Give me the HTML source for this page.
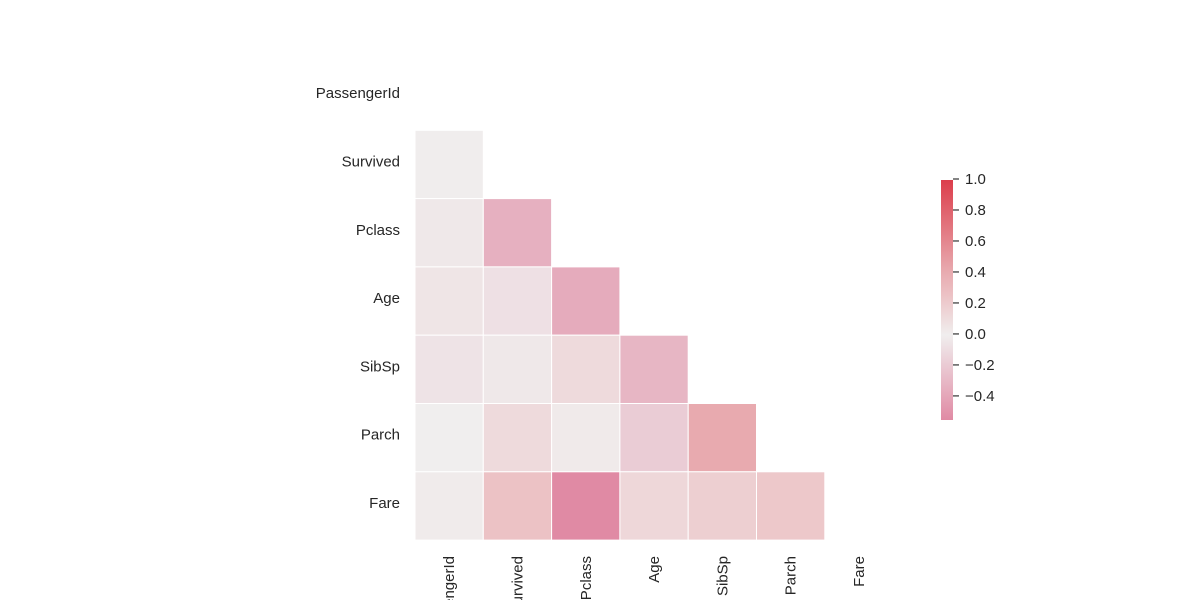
<!DOCTYPE html>
<html><head><meta charset="utf-8"><style>
html,body{margin:0;background:#fff;font-family:"Liberation Sans","DejaVu Sans",sans-serif;overflow:hidden;width:1200px;height:600px}
svg{display:block;overflow:hidden}
</style></head><body>
<svg id="chart" width="1200" height="600" font-family="Liberation Sans, DejaVu Sans, sans-serif" font-size="15" fill="#262626">
<defs>
<linearGradient id="cbg" x1="0" y1="1" x2="0" y2="0">
<stop offset="0" stop-color="#e08aa4"/>
<stop offset="0.354" stop-color="#f0eeee"/>
<stop offset="0.52" stop-color="#ecc2c5"/>
<stop offset="0.62" stop-color="#e8aaaf"/>
<stop offset="1" stop-color="#dc3d4b"/>
</linearGradient>
</defs>
<g id="cells"></g>
<g id="labels"></g>
<g id="cbar"></g>
</svg>
<script>
const names=["PassengerId","Survived","Pclass","Age","SibSp","Parch","Fare"];
const row1=[-0.005];
const row2=[-0.035,-0.338];
const row3=[0.037,-0.077,-0.369];
const row4=[-0.058,-0.035,0.083,-0.308];
const row5=[-0.002,0.082,0.018,-0.189,0.415];
const row6=[0.013,0.257,-0.549,0.096,0.160,0.216];
const cbTicks=[1.0,0.8,0.6,0.4,0.2,0.0,-0.2,-0.4];
const vmin=-0.549, vmax=1.0;
const rows=[[],row1,row2,row3,row4,row5,row6];
const NS="http://www.w3.org/2000/svg";
const x0=415,y0=62,cw=68.3,ch=68.3;
const stops=[[-0.549,[224,138,164]],[0,[240,238,238]],[0.1,[238,214,216]],[0.26,[236,194,197]],[0.415,[232,170,175]],[1.0,[220,61,75]]];
function color(v){
  v=Math.max(vmin,Math.min(vmax,v));
  for(let i=0;i<stops.length-1;i++){const a=stops[i],b=stops[i+1];
    if(v<=b[0]){const t=(v-a[0])/(b[0]-a[0]);return "rgb("+a[1].map((c,k)=>Math.round(c+(b[1][k]-c)*t)).join(",")+")";}}
  return "rgb(220,61,75)";
}
function mk(tag,attrs,parent){const e=document.createElementNS(NS,tag);for(const k in attrs)e.setAttribute(k,attrs[k]);parent.appendChild(e);return e;}
const cells=document.getElementById("cells"),labels=document.getElementById("labels"),cbar=document.getElementById("cbar");
rows.forEach((r,i)=>r.forEach((v,j)=>{
  const e=mk("rect",{x:x0+j*cw,y:y0+i*ch,width:cw,height:ch,fill:color(v),stroke:"#fff","stroke-width":1},cells);
  
  
}));
names.forEach((n,i)=>{
  const t=mk("text",{x:400,y:y0+i*ch+ch/2+2,"text-anchor":"end"},labels);t.textContent=n;
  
  
  const cx=x0+i*cw+cw/2+5;
  const u=mk("text",{x:cx,y:556,"text-anchor":"end",transform:"rotate(-90 "+cx+" 556)"},labels);u.textContent=n;
  
  
});
const cbx=941,cbTop=180,cbBot=420;
const cy=v=>cbBot-(v-vmin)/(vmax-vmin)*(cbBot-cbTop);
const bar=mk("rect",{x:cbx,y:cbTop,width:12,height:cbBot-cbTop,fill:"url(#cbg)"},cbar);


cbTicks.forEach(v=>{
  const y=cy(v)-1;
  mk("line",{x1:953,x2:959,y1:y,y2:y,stroke:"#333","stroke-width":1.2},cbar);
  const t=mk("text",{x:965,y:y+5},cbar);t.textContent=(v<0?"\u2212":"")+Math.abs(v).toFixed(1);
  
  
});
</script>
</body></html>
